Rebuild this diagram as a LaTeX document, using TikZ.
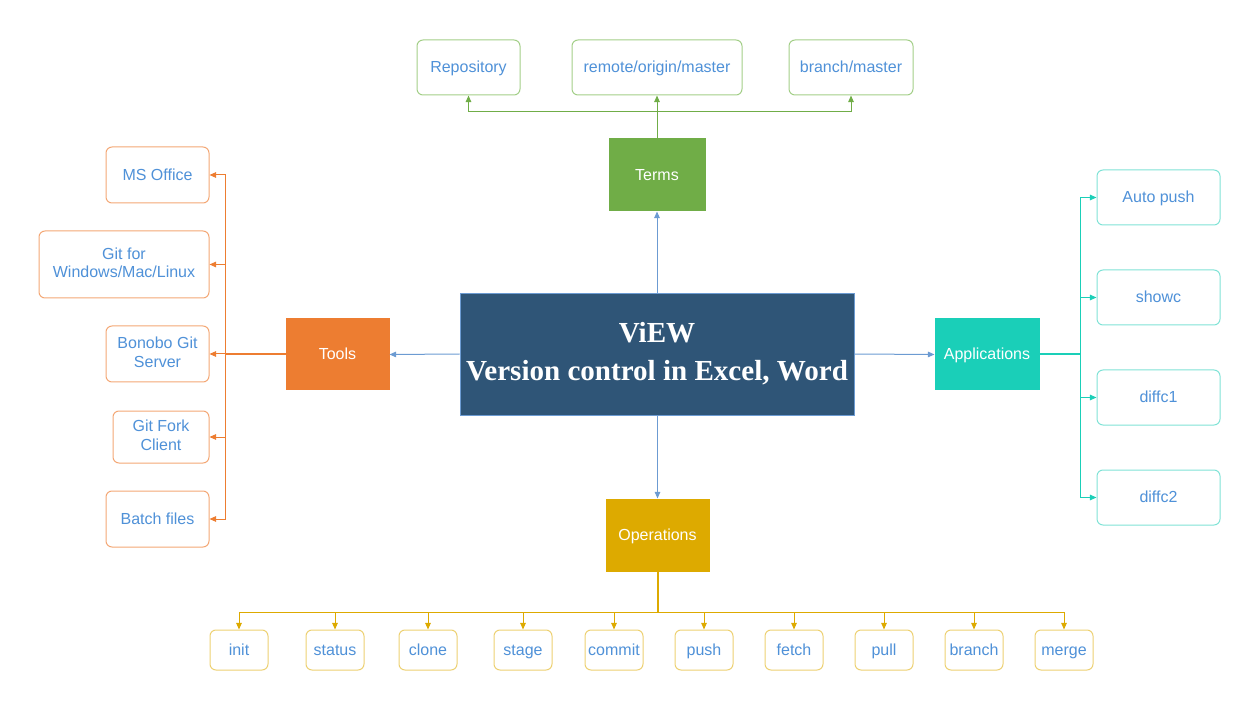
\documentclass[tikz,border=0pt]{standalone}
\usepackage{fontspec}
\setmainfont{Liberation Sans}
\newfontfamily\titlefont{Liberation Serif}
\usetikzlibrary{arrows.meta}
\newcommand\topstrut{\rule{0pt}{10.6pt}}
\newcommand\botstrut{\rule[-2.6pt]{0pt}{2.6pt}}
\definecolor{txt}{HTML}{4F91D8}
\definecolor{cblue}{HTML}{2F5577}
\definecolor{cblueb}{HTML}{6C9BD2}
\definecolor{cgreen}{HTML}{70AD47}
\definecolor{cgreenb}{HTML}{A3CF88}
\definecolor{corange}{HTML}{ED7D31}
\definecolor{coranb}{HTML}{F4A876}
\definecolor{cteal}{HTML}{1ACFB8}
\definecolor{ctealb}{HTML}{80E3D6}
\definecolor{cyel}{HTML}{DDAA00}
\definecolor{cyelb}{HTML}{EDD173}
\begin{document}
\begin{tikzpicture}[x=0.75pt,y=-0.75pt,
  every node/.style={inner sep=0pt,align=center,font=\fontsize{12}{14}\selectfont,
    execute at begin node=\topstrut,execute at end node=\botstrut},
  leaf/.style={draw,rounded corners=4.5pt,fill=white,text=txt,line width=0.75pt},
  hub/.style={text=white,line width=0.75pt},
  tip/.style={-{Triangle[length=5pt,width=4.2pt]}},
  garr/.style={tip,draw=cgreen,line width=0.75pt},
  oarr/.style={tip,draw=corange,line width=0.75pt},
  tarr/.style={tip,draw=cteal,line width=0.75pt},
  yarr/.style={tip,draw=cyel,line width=0.75pt},
  barr/.style={tip,draw=cblueb,line width=0.75pt}]
\useasboundingbox (0,0) rectangle (1256,716);
% center
\node[draw=cblueb,fill=cblue,text=white,minimum width=295.5pt,minimum height=91.5pt,
  execute at begin node={},execute at end node={},
  font=\titlefont\bfseries\fontsize{21.8}{28.5}\selectfont] (view) at (657,354) {ViEW\\Version control in Excel, Word};
% hubs
\node[hub,fill=cgreen,draw=cgreen,minimum width=72pt,minimum height=54pt] (terms) at (657,175) {Terms};
\node[hub,fill=corange,draw=corange,minimum width=77.25pt,minimum height=53.25pt] (tools) at (337.5,354.5) {Tools};
\node[hub,fill=cteal,draw=cteal,minimum width=78pt,minimum height=53.25pt] (apps) at (987,354.5) {Applications};
\node[hub,fill=cyel,draw=cyel,minimum width=77.25pt,minimum height=54pt] (ops) at (657.5,535) {Operations};
% terms leaves
\node[leaf,draw=cgreenb,minimum width=77.25pt,minimum height=41.25pt] (repo) at (468.5,67.5) {Repository};
\node[leaf,draw=cgreenb,minimum width=127.5pt,minimum height=41.25pt] (remote) at (657,67.5) {remote/origin/master};
\node[leaf,draw=cgreenb,minimum width=93pt,minimum height=41.25pt] (bmaster) at (851,67.5) {branch/master};
% tools leaves
\node[leaf,draw=coranb,minimum width=77.25pt,minimum height=42pt] (msoff) at (157.5,175) {MS Office};
\node[leaf,draw=coranb,minimum width=127.5pt,minimum height=50.25pt] (gitfor) at (124,264.5) {Git for\\Windows/Mac/Linux};
\node[leaf,draw=coranb,minimum width=77.25pt,minimum height=42pt] (bonobo) at (157.5,354) {Bonobo Git\\Server};
\node[leaf,draw=coranb,minimum width=72pt,minimum height=39pt] (fork) at (161,437) {Git Fork\\Client};
\node[leaf,draw=coranb,minimum width=77.25pt,minimum height=42pt] (batch) at (157.5,519) {Batch files};
% apps leaves
\node[leaf,draw=ctealb,minimum width=92.25pt,minimum height=41.25pt] (autop) at (1158.5,197.5) {Auto push};
\node[leaf,draw=ctealb,minimum width=92.25pt,minimum height=41.25pt] (showc) at (1158.5,297.5) {showc};
\node[leaf,draw=ctealb,minimum width=92.25pt,minimum height=41.25pt] (diffa) at (1158.5,397.5) {diffc1};
\node[leaf,draw=ctealb,minimum width=92.25pt,minimum height=41.25pt] (diffb) at (1158.5,497.5) {diffc2};
% ops leaves
\foreach \n/\t/\xx in {oinit/init/239,ostatus/status/335,oclone/clone/428,ostage/stage/523,ocommit/commit/614,opush/push/704,ofetch/fetch/794,opull/pull/884,obranch/branch/974,omerge/merge/1064}
  \node[leaf,draw=cyelb,minimum width=43.5pt,minimum height=30pt] (\n) at (\xx,650) {\t};
% junctions
\coordinate (tj) at (657,112);
\coordinate (lj) at (225,354.5);
\coordinate (rj) at (1080,354.5);
\coordinate (bj) at (657.5,612);
% center arrows
\draw[barr] (view.north) -- (terms.south);
\draw[barr] (view.west) -- (tools.east);
\draw[barr] (view.east) -- (apps.west);
\draw[barr] (view.south -| ops.north) -- (ops.north);
% terms
\draw[garr] (terms.north) -- (remote.south);
\draw[garr] (tj) -| (repo.south);
\draw[garr] (tj) -| (bmaster.south);
% tools
\draw[draw=corange,line width=1.5pt] (tools.west) -- (lj);
\foreach \n in {msoff,gitfor,bonobo,fork,batch}
  \draw[oarr] (lj) |- (\n.east);
% apps
\draw[draw=cteal,line width=1.5pt] (apps.east) -- (rj);
\foreach \n in {autop,showc,diffa,diffb}
  \draw[tarr] (rj) |- (\n.west);
% ops
\draw[draw=cyel,line width=1.5pt] (ops.south) -- (bj);
\foreach \n in {oinit,ostatus,oclone,ostage,ocommit,opush,ofetch,opull,obranch,omerge}
  \draw[yarr] (bj) -| (\n.north);
\end{tikzpicture}
\end{document}
